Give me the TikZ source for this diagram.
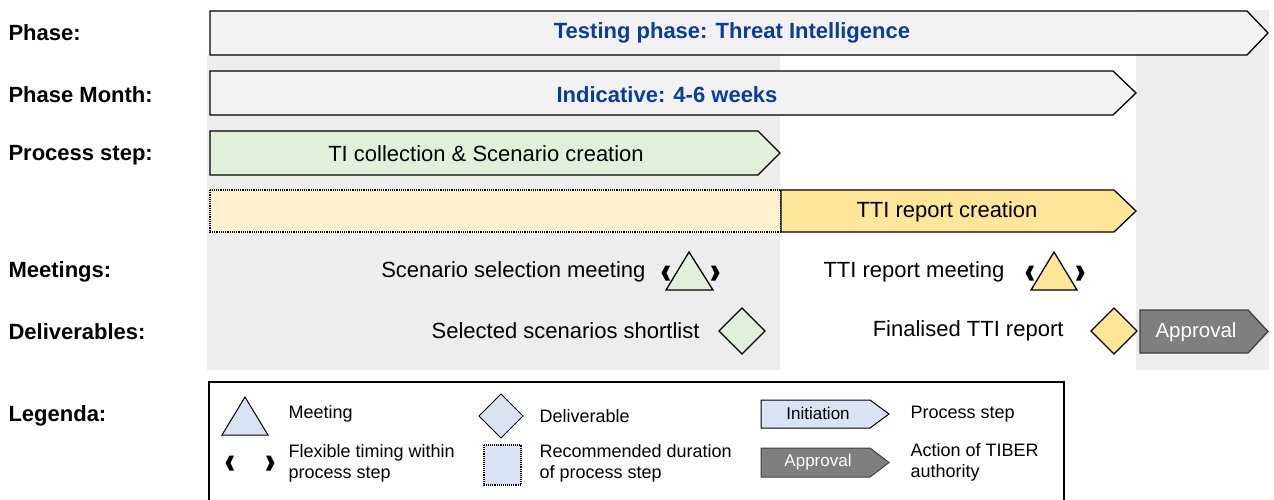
\documentclass[tikz,border=0pt]{standalone}
\usepackage{fontspec}
\setmainfont{Liberation Sans}
\definecolor{bgrey}{HTML}{EDEDED}
\definecolor{pgrey}{HTML}{F2F2F2}
\definecolor{tblue}{HTML}{0B3C9C}
\definecolor{lgreen}{HTML}{E2EFDA}
\definecolor{lyellow}{HTML}{FFF2CC}
\definecolor{myellow}{HTML}{FFE699}
\definecolor{lblue}{HTML}{DAE3F3}
\definecolor{dgrey}{HTML}{7F7F7F}
\newcommand\mychev[6]{\draw[#6] (#1,#2) -- ({#3-#5},#2) -- (#3,{(#2+#4)/2}) -- ({#3-#5},#4) -- (#1,#4) -- cycle;}
\newcommand\lbrk[2]{\fill ({#1+0.5},{#2-7.5}) -- ({#1+5},{#2-7.5}) -- ({#1+1.5},#2) -- ({#1+5},{#2+7.5}) -- ({#1+0.5},{#2+7.5}) -- ({#1-3.5},#2) -- cycle;}
\newcommand\rbrk[2]{\fill ({#1-0.5},{#2-7.5}) -- ({#1-5},{#2-7.5}) -- ({#1-1.5},#2) -- ({#1-5},{#2+7.5}) -- ({#1-0.5},{#2+7.5}) -- ({#1+3.5},#2) -- cycle;}
\tikzset{
  rowlbl/.style={anchor=west,font=\fontsize{22}{24}\selectfont\bfseries},
  bluetxt/.style={font=\fontsize{22}{24}\selectfont\bfseries,text=tblue},
  maintxt/.style={font=\fontsize{22}{24}\selectfont},
  legtxt/.style={font=\fontsize{18}{21}\selectfont,anchor=west,align=left},
  shp/.style={draw=black,line width=1.3pt},
}
\begin{document}
\begin{tikzpicture}[x=1pt,y=-1pt]
\useasboundingbox (0,0) rectangle (1274,499);
\fill[white] (0,0) rectangle (1274,499);
% grey backgrounds
\fill[bgrey] (207,55) rectangle (780,370);
\fill[bgrey] (1136,10) rectangle (1269,370);
% row labels
\node[rowlbl] (l1) at (5,33) {Phase:};
\node[rowlbl] (l2) at (5,95) {Phase Month:};
\node[rowlbl] (l3) at (5,155) {Process step:};
\node[rowlbl] (l4) at (5,272) {Meetings:};
\node[rowlbl] (l5) at (5,332) {Deliverables:};
\node[rowlbl] (l6) at (5,416) {Legenda:};
% phase arrows
\mychev{210}{11}{1268}{55}{21}{shp,fill=pgrey}
\node[bluetxt] (ph) at (732,33) {Testing phase: Threat Intelligence};
\mychev{210}{71}{1136}{115}{23}{shp,fill=pgrey}
\node[bluetxt] (pm) at (667,95) {Indicative: 4-6 weeks};
% process steps
\mychev{210}{131}{780}{175}{22}{shp,fill=lgreen}
\node[maintxt] (ps1) at (486,154) {TI collection \& Scenario creation};
\draw[fill=lyellow,densely dotted,line width=1.2pt] (210,190) rectangle (781,232);
\mychev{781}{190}{1136}{232}{22}{shp,fill=myellow}
\node[maintxt] (ps2) at (947,212) {TTI report creation};
% meetings
\node[maintxt,anchor=east] (m1) at (649,272) {Scenario selection meeting};
\draw[shp,fill=lgreen] (666,290) -- (689,252) -- (713,290) -- cycle;
\lbrk{665}{273}\rbrk{716}{273}
\node[maintxt,anchor=east] (m2) at (1008,272) {TTI report meeting};
\draw[shp,fill=myellow] (1031,290) -- (1054,252) -- (1077,290) -- cycle;
\lbrk{1029}{273}\rbrk{1081}{273}
% deliverables
\node[maintxt,anchor=east] (d1) at (703,331) {Selected scenarios shortlist};
\draw[shp,fill=lgreen] (719,331) -- (742,308) -- (765,331) -- (742,354) -- cycle;
\node[maintxt,anchor=east] (d2) at (1067,331) {Finalised TTI report};
\draw[shp,fill=myellow] (1091,331) -- (1114,308) -- (1137,331) -- (1114,354) -- cycle;
\mychev{1140}{310}{1268}{353}{20}{draw=black!75,line width=1.3pt,fill=dgrey}
\node[font=\fontsize{20.5}{22}\selectfont,text=white] (ap) at (1196,332) {Approval};
% legend
\draw[line width=1.2pt] (209,502) -- (209,382) -- (1064,382) -- (1064,502);
\draw[draw=black,line width=1pt,fill=lblue] (222,435) -- (245,397) -- (268,435) -- cycle;
\node[legtxt] (t1) at (285,414) {Meeting};
\draw[draw=black,line width=1pt,fill=lblue] (479,416) -- (501,394) -- (523,416) -- (501,438) -- cycle;
\node[legtxt] (t2) at (536,416) {Deliverable};
\mychev{761}{400}{889}{428}{19}{draw=black,line width=1pt,fill=lblue}
\node[font=\fontsize{17}{20}\selectfont] (ini) at (818,413) {Initiation};
\node[legtxt] (t3) at (907,414) {Process step};
\lbrk{229}{463}\rbrk{271}{463}
\node[legtxt] (t4) at (285,463) {Flexible timing within\\process step};
\draw[fill=lblue,densely dotted,line width=1.1pt] (484,445) rectangle (521,485);
\node[legtxt] (t5) at (536,463) {Recommended duration\\of process step};
\mychev{761}{448}{889}{477}{19}{draw=black!75,line width=1pt,fill=dgrey}
\node[font=\fontsize{17}{20}\selectfont,text=white] (apl) at (818,462) {Approval};
\node[legtxt] (t6) at (907,462) {Action of TIBER\\authority};
\end{tikzpicture}
\end{document}
